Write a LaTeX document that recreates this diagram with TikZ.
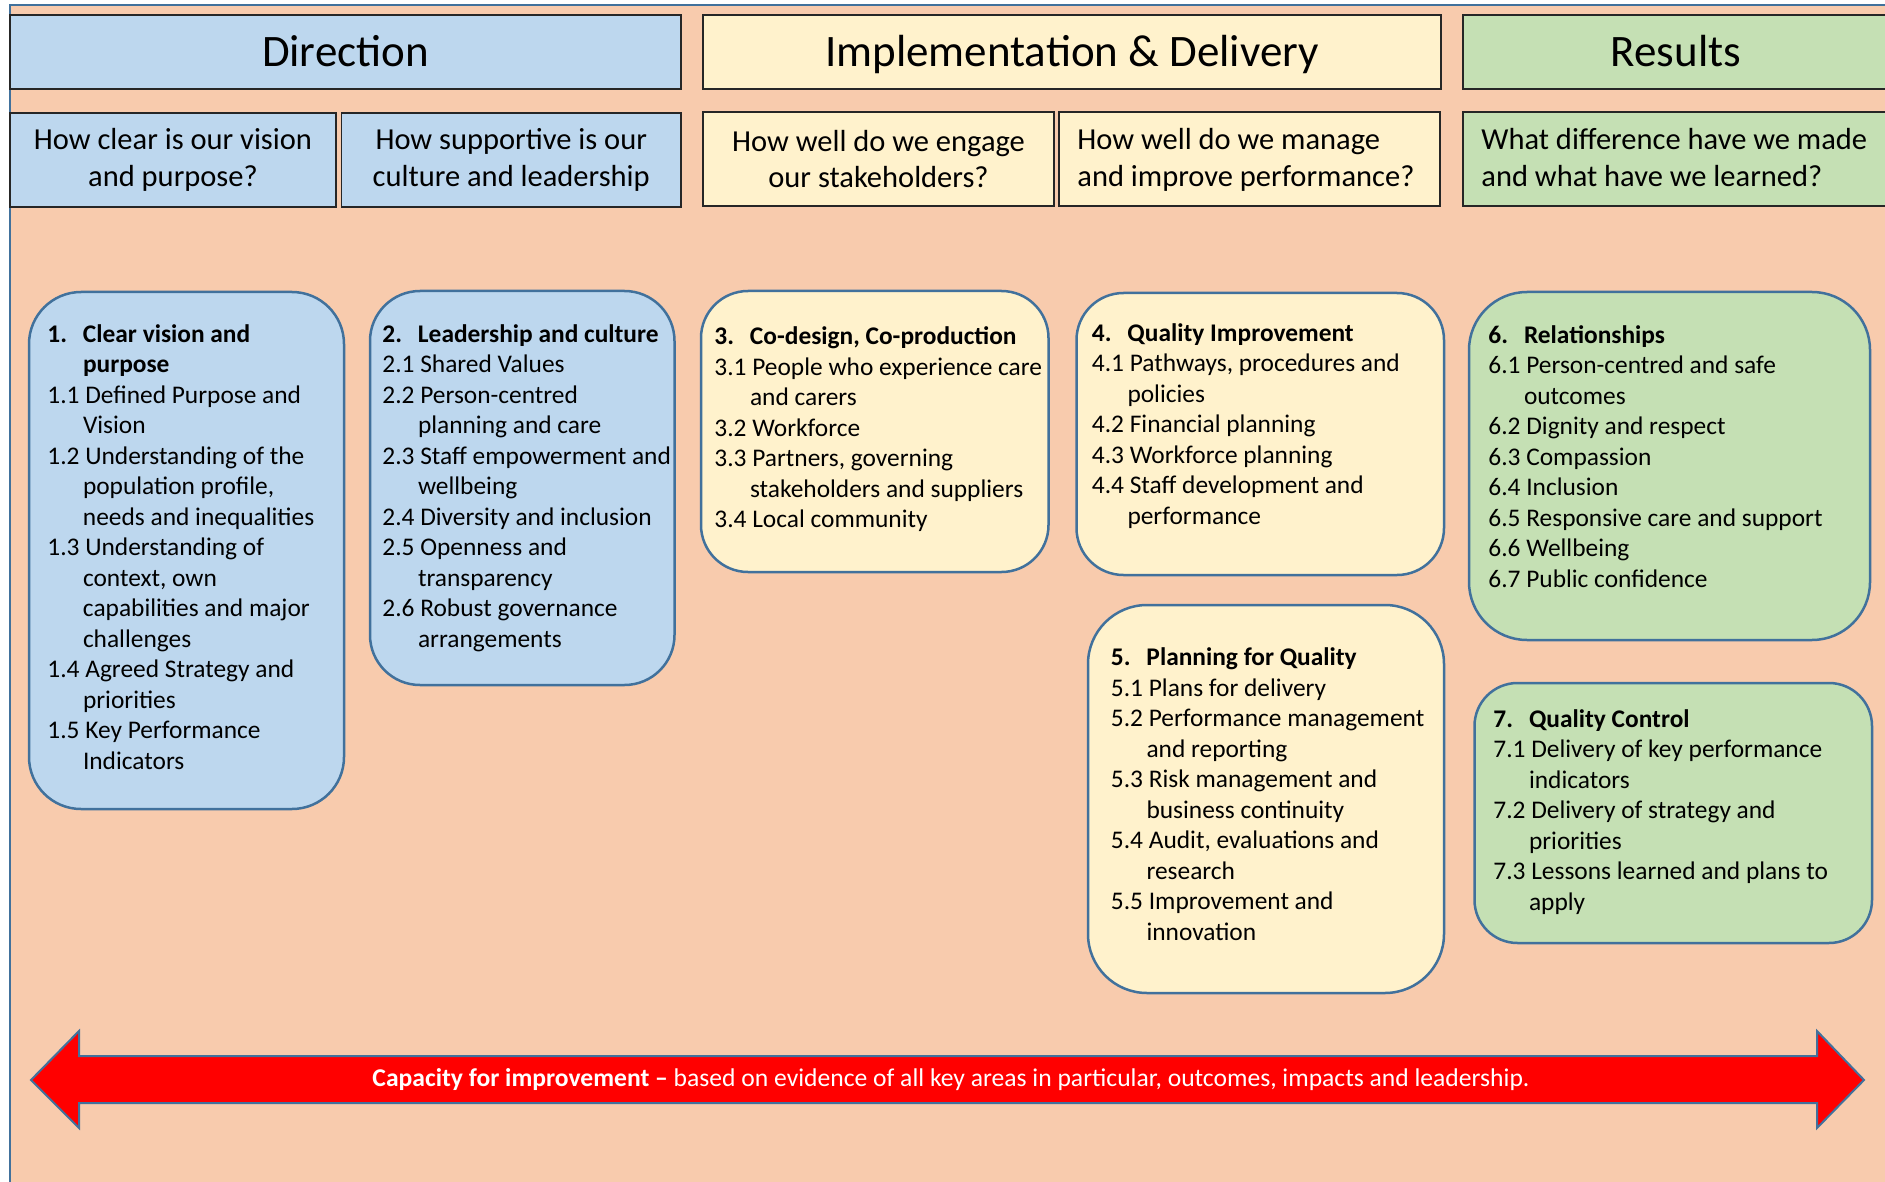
\documentclass[tikz,border=0pt]{standalone}
\usepackage{fontspec}
\setmainfont{Carlito}
\definecolor{peach}{HTML}{F8CBAD}
\definecolor{bluef}{HTML}{BDD7EE}
\definecolor{yellf}{HTML}{FFF2CC}
\definecolor{greenf}{HTML}{C5E0B4}
\definecolor{edgeb}{HTML}{41719C}
\definecolor{hdedge}{HTML}{262626}
\definecolor{arrred}{HTML}{FF0000}
\newcommand\NumW{17.8pt}
\newcommand\bxhead[2]{\rule{0pt}{10pt}\makebox[\NumW][l]{\bfseries #1}\textbf{#2}}
\newcommand\bxitem[2]{#1\ #2}
\newcommand\bxcont[1]{\hspace*{\NumW}#1}
\begin{document}
\begin{tikzpicture}[x=0.5pt,y=-0.5pt,
  hdr/.style={draw=hdedge, line width=0.75pt, inner sep=0pt, minimum height=37pt,
              text height=15pt, text depth=0pt,
              font=\fontsize{22.5pt}{27pt}\selectfont},
  qbox/.style={draw=hdedge, line width=0.75pt, inner sep=0pt, minimum height=47pt, align=center,
              font=\fontsize{15.25pt}{18.3pt}\selectfont},
  qtext/.style={anchor=west, inner sep=0pt, align=left,
              font=\fontsize{15.25pt}{18.3pt}\selectfont},
  rbox/.style={draw=edgeb, line width=1.25pt, inner sep=0pt},
  btext/.style={anchor=north west, inner sep=0pt, align=left,
              font=\fontsize{12.7pt}{15.25pt}\selectfont}]
\useasboundingbox (0,0) rectangle (1885,1182);
% background frame
\path[fill=peach, draw=edgeb, line width=1pt] (10,5) rectangle (1895,1195);
% headers
\node[hdr, fill=bluef, minimum width=335.5pt] (hdir) at (345.5,52) {Direction};
\node[hdr, fill=yellf, minimum width=369pt] (himp) at (1072,52) {Implementation \& Delivery};
\node[hdr, fill=greenf, minimum width=213pt] (hres) at (1676,52) {Results};
% questions
\node[qbox, fill=bluef, minimum width=163pt] (q1) at (173,160) {How clear is our vision\\and purpose?};
\node[qbox, fill=bluef, minimum width=169.75pt] (q2) at (511.25,160) {How supportive is our\\culture and leadership};
\node[qbox, fill=yellf, minimum width=175.5pt] (q3) at (878.5,159) {How well do we engage\\our stakeholders?};
\node[qbox, fill=yellf, minimum width=190.5pt] (q4) at (1249.5,159) {};
\node[qtext] (q4t) at (1077,160) {How well do we manage\\and improve performance?};
\node[qbox, fill=greenf, minimum width=213pt] (q5) at (1676,159) {};
\node[qtext] (q5t) at (1481,157.5) {What difference have we made\\and what have we learned?};
% rounded boxes
\node[rbox, fill=bluef, rounded corners=26pt, minimum width=157.5pt, minimum height=258.5pt] (b1) at (186.5,550.5) {};
\node[rbox, fill=bluef, rounded corners=25pt, minimum width=152.25pt, minimum height=197pt] (b2) at (522.25,488) {};
\node[rbox, fill=yellf, rounded corners=23.5pt, minimum width=173.75pt, minimum height=140.5pt] (b3) at (874.75,431.5) {};
\node[rbox, fill=yellf, rounded corners=23.5pt, minimum width=183.75pt, minimum height=141pt] (b4) at (1260.25,434) {};
\node[rbox, fill=yellf, rounded corners=29.5pt, minimum width=178pt, minimum height=194pt] (b5) at (1266,799) {};
\node[rbox, fill=greenf, rounded corners=29pt, minimum width=200.5pt, minimum height=174pt] (b6) at (1669.5,466) {};
\node[rbox, fill=greenf, rounded corners=21.5pt, minimum width=198.75pt, minimum height=130pt] (b7) at (1673.25,813) {};
% box texts
\node[btext] (t1) at (47,322) {\bxhead{1.}{Clear vision and}\\
\bxcont{\textbf{purpose}}\\
\bxitem{1.1}{Defined Purpose and}\\
\bxcont{Vision}\\
\bxitem{1.2}{Understanding of the}\\
\bxcont{population profile,}\\
\bxcont{needs and inequalities}\\
\bxitem{1.3}{Understanding of}\\
\bxcont{context, own}\\
\bxcont{capabilities and major}\\
\bxcont{challenges}\\
\bxitem{1.4}{Agreed Strategy and}\\
\bxcont{priorities}\\
\bxitem{1.5}{Key Performance}\\
\bxcont{Indicators}};
\node[btext] (t2) at (382,322) {\bxhead{2.}{Leadership and culture}\\
\bxitem{2.1}{Shared Values}\\
\bxitem{2.2}{Person-centred}\\
\bxcont{planning and care}\\
\bxitem{2.3}{Staff empowerment and}\\
\bxcont{wellbeing}\\
\bxitem{2.4}{Diversity and inclusion}\\
\bxitem{2.5}{Openness and}\\
\bxcont{transparency}\\
\bxitem{2.6}{Robust governance}\\
\bxcont{arrangements}};
\node[btext] (t3) at (714,324.5) {\bxhead{3.}{Co-design, Co-production}\\
\bxitem{3.1}{People who experience care}\\
\bxcont{and carers}\\
\bxitem{3.2}{Workforce}\\
\bxitem{3.3}{Partners, governing}\\
\bxcont{stakeholders and suppliers}\\
\bxitem{3.4}{Local community}};
\node[btext] (t4) at (1091.5,321) {\bxhead{4.}{Quality Improvement}\\
\bxitem{4.1}{Pathways, procedures and}\\
\bxcont{policies}\\
\bxitem{4.2}{Financial planning}\\
\bxitem{4.3}{Workforce planning}\\
\bxitem{4.4}{Staff development and}\\
\bxcont{performance}};
\node[btext] (t5) at (1110.5,645.5) {\bxhead{5.}{Planning for Quality}\\
\bxitem{5.1}{Plans for delivery}\\
\bxitem{5.2}{Performance management}\\
\bxcont{and reporting}\\
\bxitem{5.3}{Risk management and}\\
\bxcont{business continuity}\\
\bxitem{5.4}{Audit, evaluations and}\\
\bxcont{research}\\
\bxitem{5.5}{Improvement and}\\
\bxcont{innovation}};
\node[btext] (t6) at (1488,323) {\bxhead{6.}{Relationships}\\
\bxitem{6.1}{Person-centred and safe}\\
\bxcont{outcomes}\\
\bxitem{6.2}{Dignity and respect}\\
\bxitem{6.3}{Compassion}\\
\bxitem{6.4}{Inclusion}\\
\bxitem{6.5}{Responsive care and support}\\
\bxitem{6.6}{Wellbeing}\\
\bxitem{6.7}{Public confidence}};
\node[btext] (t7) at (1493,707) {\bxhead{7.}{Quality Control}\\
\bxitem{7.1}{Delivery of key performance}\\
\bxcont{indicators}\\
\bxitem{7.2}{Delivery of strategy and}\\
\bxcont{priorities}\\
\bxitem{7.3}{Lessons learned and plans to}\\
\bxcont{apply}};
% double arrow
\path[fill=arrred, draw=edgeb, line width=1pt, line join=miter]
  (31,1080) -- (79,1031) -- (79,1056) -- (1817,1056) -- (1817,1031) -- (1864,1080)
  -- (1817,1128) -- (1817,1103) -- (79,1103) -- (79,1128) -- cycle;
\node[text=white, inner sep=0pt, font=\fontsize{12.8pt}{15pt}\selectfont] (cap) at (951,1080)
  {\textbf{Capacity for improvement –} based on evidence of all key areas in particular, outcomes, impacts and leadership.};
\end{tikzpicture}
\end{document}
